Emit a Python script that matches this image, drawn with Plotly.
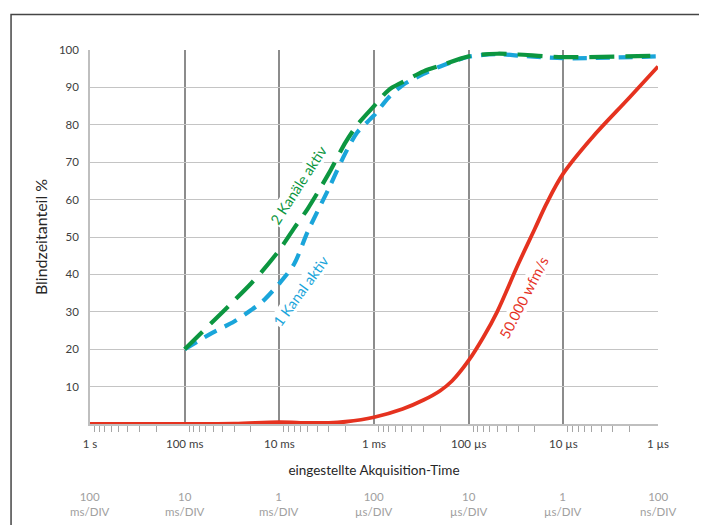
import math
import plotly.graph_objects as go

# ---------------- data ----------------
# acquisition time in seconds
t_red = [1, 0.3, 0.1, 0.03, 0.01, 0.005, 0.003, 0.002, 1e-3, 5e-4, 3e-4, 2e-4, 1.5e-4, 1e-4,
         7e-5, 5e-5, 3e-5, 2e-5, 1.5e-5, 1e-5, 5e-6, 2e-6, 1e-6]
v_red = [0, 0, 0, 0.1, 0.5, 0.3, 0.3, 0.6, 1.8, 4.0, 6.4, 8.9, 11.5, 17,
         23.2, 30, 42.7, 52.2, 59, 67, 76.5, 87.3, 95.6]

t_two = [0.1, 0.05, 0.03, 0.02, 0.015, 0.01, 0.007, 0.005, 0.003, 0.002, 0.0015, 0.001,
         7e-4, 5e-4, 3e-4, 2e-4, 1e-4, 5e-5, 3e-5, 1e-5, 1e-6]
v_two = [20, 27.5, 33, 37.5, 41, 46.5, 52.3, 57.6, 67, 75.3, 80, 85,
         89.3, 91.4, 94.3, 95.8, 98.3, 99, 98.8, 98.1, 98.5]

t_one = [0.1, 0.05, 0.03, 0.02, 0.015, 0.01, 0.007, 0.005, 0.003, 0.002, 0.0015, 0.001,
         7e-4, 5e-4, 3e-4, 2e-4, 1e-4, 5e-5, 3e-5, 1e-5, 1e-6]
v_one = [20, 24.5, 27.4, 30.4, 32.8, 37.6, 42.7, 51.5, 63, 72.5, 78, 82.5,
         87.3, 90.6, 93.6, 95.6, 98.2, 98.9, 98.5, 97.8, 98.3]

tick_vals = [1, 0.1, 0.01, 1e-3, 1e-4, 1e-5, 1e-6]
tick_text = ["1 s", "100 ms", "10 ms", "1 ms", "100 µs", "10 µs", "1 µs"]
div_text = ["100<br>ms/DIV", "10<br>ms/DIV", "1<br>ms/DIV", "100<br>µs/DIV",
            "10<br>µs/DIV", "1<br>µs/DIV", "100<br>ns/DIV"]
y_ticks = [10, 20, 30, 40, 50, 60, 70, 80, 90, 100]

minor_vals = [k * d for d in [0.1, 0.01, 1e-3, 1e-4, 1e-5, 1e-6] for k in range(2, 10)]

RED = "#e5321f"
GREEN = "#0c9640"
BLUE = "#1aa5da"
FONT = "Lato"

fig = go.Figure()
fig.add_trace(go.Scatter(x=t_red, y=v_red, mode="lines",
                         line=dict(color=RED, width=3.8, shape="spline", smoothing=1.0),
                         hoverinfo="skip"))
fig.add_trace(go.Scatter(x=t_one, y=v_one, mode="lines",
                         line=dict(color=BLUE, width=4.2, shape="spline", smoothing=0.8,
                                   dash="14px,9px"),
                         hoverinfo="skip"))
fig.add_trace(go.Scatter(x=t_two, y=v_two, mode="lines",
                         line=dict(color=GREEN, width=4.2, shape="spline", smoothing=0.8,
                                   dash="25px,11px"),
                         hoverinfo="skip"))

# rotated curve labels
fig.add_annotation(x=-2.196, y=63.9, xref="x", yref="y", text="2 Kanäle aktiv",
                   showarrow=False, textangle=-57, bgcolor="white", borderpad=0,
                   font=dict(family=FONT, size=14.5, color=GREEN))
fig.add_annotation(x=-2.228, y=35.8, xref="x", yref="y", text="1 Kanal aktiv",
                   showarrow=False, textangle=-54, bgcolor="white", borderpad=0,
                   font=dict(family=FONT, size=14.5, color=BLUE))
fig.add_annotation(x=-4.583, y=33.8, xref="x", yref="y", text="50.000 wfm/s",
                   showarrow=False, textangle=-63, bgcolor="white", borderpad=0,
                   font=dict(family=FONT, size=14.5, color=RED))

# secondary time/div labels
for tv, txt in zip(tick_vals, div_text):
    fig.add_annotation(x=math.log10(tv), y=0, xref="x", yref="y", text=txt,
                       showarrow=False, yanchor="top", yshift=-64,
                       font=dict(family=FONT, size=11.5, color="#a0a0a0"))

# outer frame
fig.add_shape(type="rect", xref="paper", yref="paper",
              x0=-0.139, x1=1.074, y0=-0.30, y1=1.0946,
              line=dict(color="#454545", width=1.5), fillcolor="rgba(0,0,0,0)")

fig.update_xaxes(type="log", range=[0, -6], automargin=False,
                 tickvals=tick_vals, ticktext=tick_text,
                 showgrid=True, gridcolor="#8c8c8c", gridwidth=1.5,
                 showline=True, linecolor="#bfbfbf", linewidth=1.5,
                 ticks="", ticklabelstandoff=8,
                 minor=dict(tickvals=minor_vals, ticks="outside", ticklen=6,
                            tickcolor="#a6a6a6", tickwidth=1, showgrid=False),
                 tickfont=dict(family=FONT, size=11.5, color="#404040"),
                 title=dict(text="eingestellte Akquisition-Time", standoff=17,
                            font=dict(family=FONT, size=13.5, color="#262626")),
                 zeroline=False)
fig.update_yaxes(range=[0, 100], tickvals=y_ticks, automargin=False,
                 showgrid=True, gridcolor="#c4c4c4", gridwidth=1.3,
                 showline=True, linecolor="#bfbfbf", linewidth=1.5,
                 ticks="", ticklabelstandoff=7,
                 tickfont=dict(family=FONT, size=11.5, color="#404040"),
                 title=dict(text="Blindzeitanteil %", standoff=7,
                            font=dict(family=FONT, size=16, color="#262626")),
                 zeroline=False)

# the page adds an 8px body margin, so the margins are shifted to compensate
fig.update_layout(width=707, height=525,
                  margin=dict(l=82, r=57, t=42, b=109),
                  plot_bgcolor="white", paper_bgcolor="white",
                  showlegend=False)

fig.write_html("out.html")
